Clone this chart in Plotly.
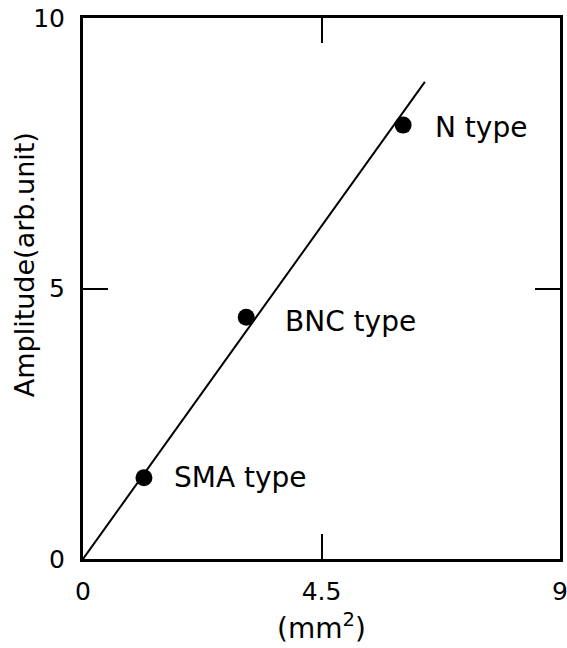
import plotly.graph_objects as go

# data
connector_types = ["SMA type", "BNC type", "N type"]
area_mm2 = [1.15, 3.08, 6.04]
amplitude = [1.50, 4.47, 8.02]
fit_x = [0.0, 6.45]
fit_y = [0.0, 8.82]
x_ticks = [0, 4.5, 9]
x_tick_labels = ["0", "4.5", "9"]
y_ticks = [0, 5, 10]
y_tick_labels = ["0", "5", "10"]
x_title = "(mm<sup>2</sup>)"
y_title = "Amplitude(arb.unit)"

FONT = "DejaVu Sans"

fig = go.Figure()
fig.add_trace(go.Scatter(x=fit_x, y=fit_y, mode="lines",
                         line=dict(color="black", width=2), hoverinfo="skip"))
fig.add_trace(go.Scatter(x=area_mm2, y=amplitude, mode="markers",
                         marker=dict(color="black", size=17)))

label_shift = [(28, 0), (37, -4), (30, -2)]
for name, xv, yv, (dx, dy) in zip(connector_types, area_mm2, amplitude, label_shift):
    fig.add_annotation(x=xv, y=yv, text=name, showarrow=False,
                       xanchor="left", yanchor="middle", xshift=dx, yshift=dy,
                       font=dict(family=FONT, size=28, color="black"))

# y-axis title as rotated text
fig.add_annotation(x=0, y=0.543, xref="paper", yref="paper", text=y_title,
                   textangle=-90, showarrow=False, xanchor="center", yanchor="middle",
                   xshift=-59, font=dict(family=FONT, size=27, color="black"))

axis_common = dict(showgrid=False, zeroline=False, showline=True, linecolor="black",
                   linewidth=3, mirror="ticks", ticks="inside", ticklen=25,
                   tickwidth=2, tickcolor="black", automargin=False,
                   ticklabeloverflow="allow",
                   tickfont=dict(family=FONT, size=25, color="black"))

fig.update_xaxes(range=[0, 9], tickvals=x_ticks, ticktext=x_tick_labels,
                 title=dict(text=x_title, standoff=14,
                            font=dict(family=FONT, size=28, color="black")),
                 ticklabelstandoff=8,
                 **axis_common)
fig.update_yaxes(range=[0, 10], tickvals=y_ticks, ticktext=y_tick_labels,
                 ticklabelstandoff=10,
                 **axis_common)

fig.update_layout(width=567, height=648, showlegend=False,
                  margin=dict(l=83, r=7, t=18, b=89),
                  plot_bgcolor="white", paper_bgcolor="white")

fig.write_html("out.html", config={"displayModeBar": False},
               post_script="document.body.style.margin='0';document.body.style.overflow='hidden';")
